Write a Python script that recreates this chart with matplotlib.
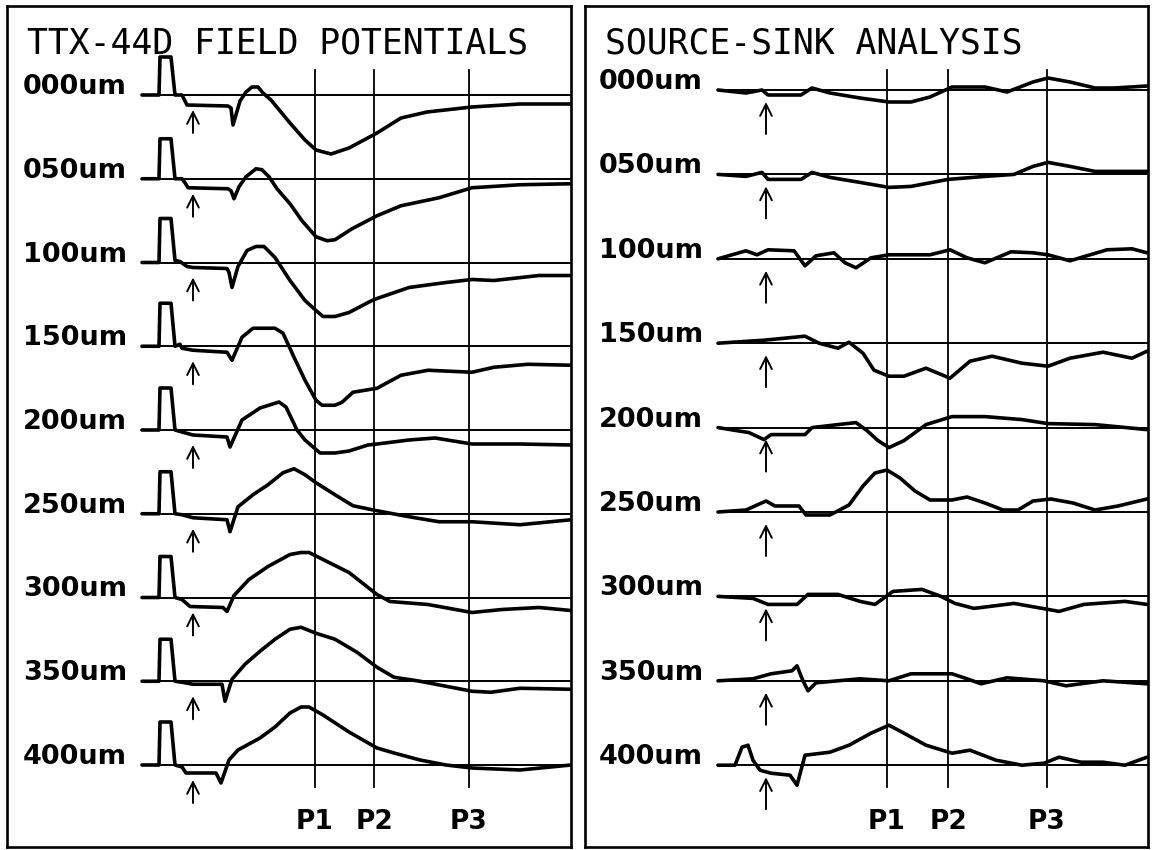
import matplotlib
matplotlib.use("Agg")
import matplotlib.pyplot as plt

# ---------------- data ----------------
depth_labels = ["000um", "050um", "100um", "150um", "200um",
                "250um", "300um", "350um", "400um"]
marker_labels = ["P1", "P2", "P3"]
fp_marker_times = [173, 232, 327]
csd_marker_times = [169, 230, 329]
fp_arrow_time = 51
csd_arrow_time = 48

# Field potentials: (time, deflection) pairs, deflection positive = up
fp_000 = [(0, 0), (17, 0), (18, 38), (29, 38), (33, 0), (40, 0), (42, -4), (45, -10), (86, -11), (89, -13),
          (91, -30), (98, -6), (104, 3), (110, 8), (116, 8), (121, 2), (129, -5), (148, -28), (163, -45),
          (174, -55), (189, -59), (207, -53), (235, -38), (259, -23), (285, -17), (330, -12), (378, -9), (429, -9)]
fp_050 = [(0, 0), (17, 0), (18, 40), (29, 40), (33, 0), (40, 0), (43, -4), (46, -9), (86, -10), (89, -12),
          (92, -20), (97, -8), (104, 2), (114, 10), (120, 9), (127, 2), (135, -10), (148, -25), (160, -42),
          (174, -58), (185, -62), (193, -61), (210, -50), (235, -37), (259, -27), (297, -19), (330, -9),
          (378, -6), (429, -5)]
fp_100 = [(0, 0), (17, 0), (18, 44), (29, 44), (33, 2), (38, 1), (45, -4), (51, -5), (85, -6), (87, -10),
          (90, -25), (96, -4), (105, 12), (114, 16), (122, 16), (133, 5), (148, -18), (163, -38), (174, -48),
          (181, -54), (193, -54), (207, -50), (230, -38), (235, -36), (267, -25), (304, -20), (330, -17),
          (352, -18), (397, -13), (429, -13)]
fp_150 = [(0, 0), (17, 0), (18, 43), (29, 43), (33, 0), (38, 2), (40, -2), (51, -4), (85, -6), (90, -14),
          (100, 9), (111, 18), (133, 18), (141, 13), (152, -11), (163, -34), (174, -54), (180, -59),
          (193, -59), (200, -56), (211, -46), (235, -42), (259, -29), (286, -24), (330, -26), (352, -21),
          (386, -18), (429, -19)]
fp_200 = [(0, 0), (17, 0), (18, 42), (29, 42), (33, 0), (40, -2), (51, -5), (85, -7), (88, -17), (100, 10),
          (118, 22), (137, 28), (144, 23), (155, 0), (163, -10), (178, -23), (193, -23), (207, -21),
          (226, -15), (235, -14), (267, -10), (293, -8), (330, -14), (378, -14), (429, -15)]
fp_250 = [(0, 0), (17, 0), (18, 42), (29, 42), (33, 0), (40, -1), (51, -4), (85, -6), (88, -18), (96, 7),
          (111, 19), (126, 29), (141, 41), (152, 45), (163, 39), (174, 31), (193, 19), (211, 8), (235, 3),
          (267, -3), (297, -8), (330, -8), (378, -11), (429, -6)]
fp_300 = [(0, 0), (17, 0), (18, 41), (29, 41), (33, 0), (40, -2), (48, -9), (81, -10), (85, -14), (92, 2),
          (107, 18), (126, 31), (148, 43), (159, 45), (167, 45), (181, 38), (207, 25), (235, 3), (248, -4),
          (286, -7), (330, -15), (360, -12), (397, -10), (429, -13)]
fp_350 = [(0, 0), (17, 0), (18, 42), (29, 42), (33, 0), (40, -1), (51, -3), (80, -3), (83, -20), (90, 2),
          (103, 17), (118, 30), (133, 42), (148, 52), (159, 54), (174, 48), (193, 42), (215, 29), (235, 14),
          (252, 4), (278, 0), (304, -5), (330, -10), (349, -11), (378, -7), (429, -8)]
fp_400 = [(0, 0), (17, 0), (18, 43), (29, 43), (33, 0), (40, -2), (44, -8), (74, -8), (79, -18), (87, 5),
          (96, 15), (118, 27), (133, 38), (148, 52), (159, 58), (167, 58), (181, 50), (207, 33), (235, 17),
          (252, 12), (278, 5), (304, 0), (330, -3), (378, -5), (429, 0)]

# Source-sink analysis traces
csd_000 = [(0, 0), (28, -3), (44, 0), (50, -5), (83, -5), (94, 2), (112, -3), (142, -8), (171, -12),
           (193, -12), (212, -7), (234, 3), (267, 3), (289, -2), (315, 8), (330, 12), (352, 8), (377, 2),
           (396, 2), (429, 4)]
csd_050 = [(0, 0), (28, -2), (44, 2), (50, -5), (83, -5), (94, 2), (112, -3), (142, -8), (171, -13),
           (193, -12), (230, -5), (267, -2), (296, 0), (315, 8), (330, 12), (352, 8), (377, 3), (429, 3)]
csd_100 = [(0, 0), (28, 8), (39, 4), (50, 9), (76, 8), (87, -7), (98, 3), (116, 6), (127, -4), (138, -9),
           (153, 1), (171, 4), (212, 4), (232, 9), (249, 1), (267, -4), (293, 7), (315, 6), (330, 4),
           (352, -2), (389, 9), (414, 10), (429, 6)]
csd_150 = [(0, 0), (46, 3), (87, 7), (101, 0), (120, -5), (131, 1), (145, -10), (156, -27), (171, -33),
           (186, -33), (208, -25), (232, -35), (252, -18), (274, -13), (304, -20), (330, -23), (352, -15),
           (385, -9), (414, -15), (429, -8)]
csd_200 = [(0, 0), (31, -5), (46, -12), (53, -7), (87, -7), (94, 0), (120, 3), (138, 5), (149, -3),
           (160, -13), (171, -20), (186, -13), (208, 3), (234, 11), (267, 11), (304, 8), (330, 4), (377, 3),
           (429, -2)]
csd_250 = [(0, 0), (28, 2), (48, 11), (57, 6), (81, 6), (88, -3), (112, -3), (131, 7), (145, 26),
           (157, 39), (169, 42), (182, 34), (197, 21), (212, 12), (234, 12), (249, 15), (267, 9), (285, 2),
           (300, 2), (315, 11), (333, 13), (355, 9), (377, 2), (400, 6), (429, 13)]
csd_300 = [(0, 0), (35, -2), (50, -8), (79, -8), (90, 2), (120, 2), (142, -5), (157, -8), (175, 5),
           (204, 7), (223, 0), (237, -7), (256, -12), (296, -7), (330, -13), (341, -15), (366, -8),
           (407, -5), (429, -8)]
csd_350 = [(0, 0), (35, 2), (53, 7), (74, 10), (79, 15), (85, 0), (90, -10), (98, -2), (142, 2), (171, 0),
           (193, 7), (234, 7), (249, 2), (263, -3), (289, 3), (326, 0), (348, -5), (385, 0), (429, -3)]
csd_400 = [(0, 0), (17, 0), (24, 18), (30, 20), (35, 5), (42, -5), (53, -8), (72, -10), (79, -20),
           (87, 10), (112, 13), (131, 20), (153, 32), (171, 40), (186, 32), (208, 20), (234, 12), (252, 15),
           (278, 5), (304, 0), (326, 2), (341, 8), (363, 3), (385, 3), (407, 0), (429, 8)]

fp_traces = [fp_000, fp_050, fp_100, fp_150, fp_200, fp_250, fp_300, fp_350, fp_400]
csd_traces = [csd_000, csd_050, csd_100, csd_150, csd_200, csd_250, csd_300, csd_350, csd_400]

# ---------------- layout ----------------
W, H = 1153, 850
fig = plt.figure(figsize=(W / 100, H / 100), dpi=100)
fig.patch.set_facecolor("white")

panels = [
    dict(title="TTX-44D FIELD POTENTIALS", traces=fp_traces, marks=fp_marker_times,
         arrow=fp_arrow_time, box=(7, 571), origin=142, base0=95, step=83.75,
         arrow_span=(15, 38)),
    dict(title="SOURCE-SINK ANALYSIS", traces=csd_traces, marks=csd_marker_times,
         arrow=csd_arrow_time, box=(585, 1148), origin=718, base0=90, step=84.4,
         arrow_span=(12, 44)),
]
top_px, bot_px = 6, 847

for p in panels:
    x0, x1 = p["box"]
    ax = fig.add_axes([x0 / W, (H - bot_px) / H, (x1 - x0) / W, (bot_px - top_px) / H])
    ax.set_xlim(x0 - p["origin"], x1 - p["origin"])
    ax.set_ylim(-bot_px, -top_px)
    ax.set_xticks([])
    ax.set_yticks([])
    for s in ax.spines.values():
        s.set_linewidth(1.9)
        s.set_color("black")
    xend = x1 - p["origin"]

    ax.text(x0 - p["origin"] + 20, -43, p["title"], ha="left", va="center",
            fontsize=25, family="DejaVu Sans Mono", color="black")

    # vertical marker lines and labels
    for t, lab in zip(p["marks"], marker_labels):
        ax.plot([t, t], [-70, -787], color="black", lw=1.3)
        ax.text(t, -822, lab, ha="center", va="center", fontsize=19,
                fontweight="bold", family="DejaVu Sans", color="black")

    for i, (tr, lab) in enumerate(zip(p["traces"], depth_labels)):
        b = p["base0"] + i * p["step"]
        ax.plot([0, xend], [-b, -b], color="black", lw=1.4)
        ts = [q[0] for q in tr]
        vs = [-b + q[1] for q in tr]
        ax.plot(ts, vs, color="black", lw=2.6, solid_joinstyle="round",
                solid_capstyle="round")
        ax.text(-15, -b + 1, lab, ha="right", va="baseline", fontsize=19.5,
                fontweight="bold", family="DejaVu Sans", color="black")
        a0, a1 = p["arrow_span"]
        ax.annotate("", xy=(p["arrow"], -b - a0), xytext=(p["arrow"], -b - a1),
                    arrowprops=dict(arrowstyle="->,head_length=0.6,head_width=0.3",
                                    lw=1.4, color="black", shrinkA=0, shrinkB=0,
                                    mutation_scale=14))

fig.savefig("out.png", dpi=100, facecolor="white")
